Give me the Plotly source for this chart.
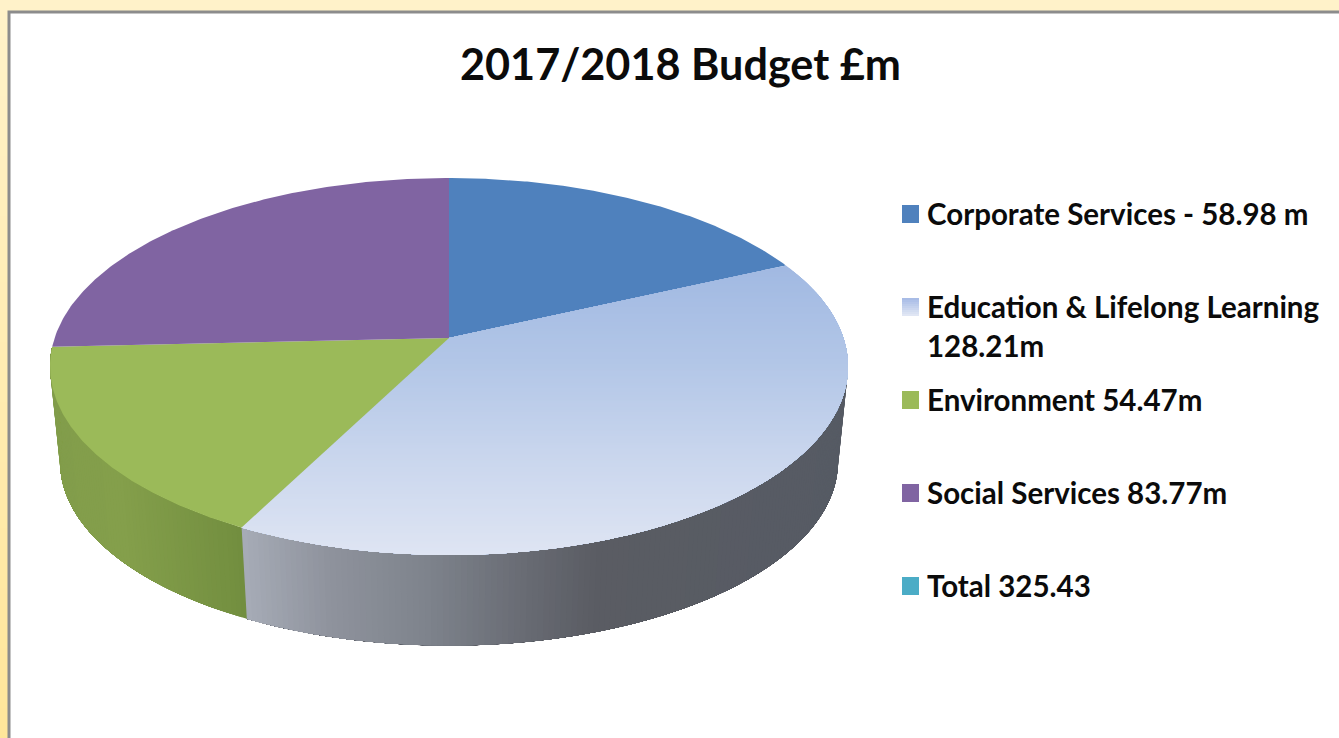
import numpy as np
import plotly.graph_objects as go

# =============================================================================
# DATA
# =============================================================================

TITLE = "2017/2018 Budget £m"
SERVICES = ["Corporate Services", "Education & Lifelong Learning", "Environment", "Social Services"]
BUDGET = [58.98, 128.21, 54.47, 83.77]
TOP_COLORS = ["#4F81BD", None, "#9BBA59", "#8064A2"]

LEGEND_LINES = [
    ["Corporate Services - 58.98 m"],
    ["Education & Lifelong Learning", "128.21m"],
    ["Environment 54.47m"],
    ["Social Services 83.77m"],
    ["Total 325.43"],
]
LEGEND_COLORS = ["#4F81BD", None, "#9BBA59", "#8064A2", "#4BACC6"]

# =============================================================================
# VISUAL CONFIG
# =============================================================================

WIDTH, HEIGHT = 1339, 738
FONT = "Lato"
TEXT = "#0B0B0B"

EDU_TOP_STOPS = [(265, "#A1B9E2"), (360, "#B2C6E7"), (450, "#C8D5ED"), (555, "#DFE5F3")]
EDU_WALL_STOPS = [(246, "#A6ABB6"), (330, "#8F939D"), (430, "#7E838C"), (530, "#686B73"),
                  (600, "#5A5C63"), (850, "#565B64")]
ENV_WALL_STOPS = [(55, "#829D4B"), (120, "#849F4B"), (245, "#728E3F")]
WALL_STOPS = {1: EDU_WALL_STOPS, 2: ENV_WALL_STOPS}

# perspective projection of the pie disc
CX, CY_TOP, CY_BOTTOM = 449, 338, 434
RX, RY, PERSP = 394.4, 184.2, 0.151
BOTTOM_SCALE = 0.975


def _rgb(hex_color):
    return np.array([int(hex_color[i:i + 2], 16) for i in (1, 3, 5)], dtype=float)


def _ramp(stops, pos):
    keys = [s[0] for s in stops]
    cols = np.array([_rgb(s[1]) for s in stops])
    r, g, b = [np.interp(pos, keys, cols[:, i]) for i in range(3)]
    return f"rgb({r:.0f},{g:.0f},{b:.0f})"


def _top(theta):
    u, v = np.sin(np.radians(theta)), np.cos(np.radians(theta))
    w = 1 + PERSP * v
    return CX + RX * u / w, CY_TOP - RY * v / w


def _bottom(theta):
    u, v = np.sin(np.radians(theta)), np.cos(np.radians(theta))
    w = 1 + PERSP * v
    return CX + BOTTOM_SCALE * RX * u / w, CY_BOTTOM - BOTTOM_SCALE * RY * v / w


def _clip_below(xs, ys, y_min):
    # keeps the part of a polygon that lies under the line y = y_min
    out_x, out_y = [], []
    n = len(xs)
    for i in range(n):
        x0, y0 = xs[i], ys[i]
        x1, y1 = xs[(i + 1) % n], ys[(i + 1) % n]
        if y0 >= y_min:
            out_x.append(x0)
            out_y.append(y0)
        if (y0 >= y_min) != (y1 >= y_min):
            t = (y_min - y0) / (y1 - y0)
            out_x.append(x0 + t * (x1 - x0))
            out_y.append(y_min)
    return out_x, out_y


def _poly(fig, xs, ys, color):
    fig.add_trace(go.Scatter(
        x=list(xs) + [xs[0]], y=list(ys) + [ys[0]],
        mode="lines", fill="toself", fillcolor=color,
        line=dict(width=0, color=color),
        hoverinfo="skip", showlegend=False,
    ))


# =============================================================================
# FIGURE
# =============================================================================

fig = go.Figure()

edges = np.concatenate([[0], np.cumsum(BUDGET)]) / sum(BUDGET) * 360

# side walls: each polygon runs to the end of the slice, later ones paint over
for i in WALL_STOPS:
    start, end = max(edges[i], 90), min(edges[i + 1], 270)
    for a in np.arange(start, end, 0.75):
        th = np.linspace(a, end, 80)
        tx, ty = _top(th)
        bx, by = _bottom(th[::-1])
        _poly(fig, np.concatenate([tx, bx]), np.concatenate([ty, by]), _ramp(WALL_STOPS[i], tx[0]))

# top faces
for i, color in enumerate(TOP_COLORS):
    th = np.linspace(edges[i], edges[i + 1], 160)
    ax, ay = _top(th)
    xs, ys = [CX] + list(ax), [CY_TOP] + list(ay)
    if color:
        _poly(fig, xs, ys, color)
    else:
        for y_min in np.arange(min(ys), max(ys), 3):
            cx, cy = _clip_below(xs, ys, y_min)
            _poly(fig, cx, cy, _ramp(EDU_TOP_STOPS, y_min))

# background, frame and legend swatches
shapes = [dict(type="rect", x0=0, x1=WIDTH, y0=0, y1=HEIGHT, fillcolor="#FFF2C9", line_width=0, layer="below")]
for y0 in range(0, HEIGHT, 6):
    shapes.append(dict(type="rect", x0=0, x1=8, y0=y0, y1=y0 + 6, layer="below", line_width=0,
                       fillcolor=_ramp([(0, "#FFF2C9"), (738, "#FFE69A")], y0)))
shapes.append(dict(type="rect", x0=9, x1=WIDTH + 10, y0=12, y1=HEIGHT + 10, fillcolor="white", layer="below",
                   line=dict(color="#8C8C8C", width=3)))

annotations = [dict(x=680, y=63, text=f"<b>{TITLE}</b>", showarrow=False, xanchor="center", yanchor="middle",
                    font=dict(family=FONT, size=43.2, color=TEXT))]
for k, lines in enumerate(LEGEND_LINES):
    y_mid = 214 + 93 * k
    if LEGEND_COLORS[k]:
        shapes.append(dict(type="rect", x0=902, x1=919, y0=y_mid - 9, y1=y_mid + 9,
                           fillcolor=LEGEND_COLORS[k], line_width=0))
    else:
        for j in range(9):
            shapes.append(dict(type="rect", x0=902, x1=919, y0=y_mid - 9 + 2 * j, y1=y_mid - 7 + 2 * j, line_width=0,
                               fillcolor=_ramp([(0, "#A8BCE6"), (8, "#E0E6F4")], j)))
    for n, line in enumerate(lines):
        annotations.append(dict(x=925, y=y_mid - 1 + 39 * n, text=f"<b>{line}</b>", showarrow=False,
                                xanchor="left", yanchor="middle",
                                font=dict(family=FONT, size=29.5, color=TEXT)))

fig.update_layout(
    width=WIDTH,
    height=HEIGHT,
    margin=dict(l=0, r=0, t=0, b=0),
    paper_bgcolor="white",
    plot_bgcolor="white",
    showlegend=False,
    shapes=shapes,
    annotations=annotations,
    xaxis=dict(range=[0, WIDTH], visible=False, fixedrange=True),
    yaxis=dict(range=[HEIGHT, 0], visible=False, fixedrange=True),
)

# the page body has a default 8px margin
fig.write_html("out.html", config=dict(displayModeBar=False),
               post_script="document.body.style.margin='0';document.body.style.overflow='hidden';")
